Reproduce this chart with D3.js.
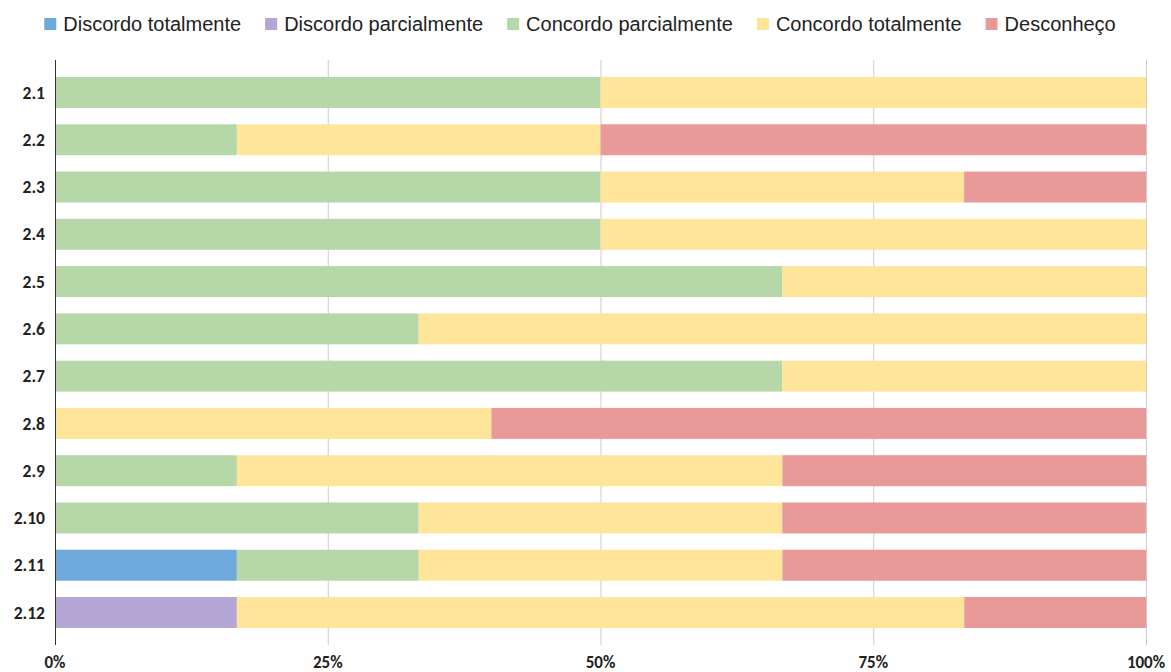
<!DOCTYPE html>
<html><head><meta charset="utf-8">
<script src="https://cdn.jsdelivr.net/npm/d3@7"></script>
<style>body{margin:0;background:#fff}svg{display:block}</style>
</head><body>
<svg id="c" width="1171" height="672"></svg>
<script>
const categories = ["2.1","2.2","2.3","2.4","2.5","2.6","2.7","2.8","2.9","2.10","2.11","2.12"];
const seriesNames = ["Discordo totalmente","Discordo parcialmente","Concordo parcialmente","Concordo totalmente","Desconheço"];
const seriesColors = ["#6fa8dc","#b4a7d6","#b6d7a8","#ffe599","#ea9999"];
const discordoTotalmente   = [0,0,0,0,0,0,0,0,0,0,16.67,0];
const discordoParcialmente = [0,0,0,0,0,0,0,0,0,0,0,16.67];
const concordoParcialmente = [50,16.67,50,50,66.67,33.33,66.67,0,16.67,33.33,16.67,0];
const concordoTotalmente   = [50,33.33,33.33,50,33.33,66.67,33.33,40,50,33.33,33.33,66.67];
const desconheco           = [0,50,16.67,0,0,0,0,60,33.33,33.33,33.33,16.67];
const tickValues = [0,25,50,75,100];
const tickLabels = ["0%","25%","50%","75%","100%"];

const seriesValues = [discordoTotalmente, discordoParcialmente, concordoParcialmente, concordoTotalmente, desconheco];
const rows = categories.map((c,i)=>{const o={cat:c}; seriesNames.forEach((s,j)=>o[s]=seriesValues[j][i]); return o;});
const stacked = d3.stack().keys(seriesNames)(rows);

const svg = d3.select("#c");
const x = d3.scaleLinear().domain([0,100]).range([55,1146]);
const y = d3.scaleBand().domain(categories).range([60,645]).paddingInner(0.345).paddingOuter(0.36);

// gridlines
svg.append("g").selectAll("line").data(tickValues.slice(1)).join("line")
  .attr("x1",d=>x(d)+0.5).attr("x2",d=>x(d)+0.5).attr("y1",60).attr("y2",645)
  .attr("stroke","#cccccc").attr("stroke-width",1);

// bars
svg.append("g").selectAll("g").data(stacked).join("g")
  .attr("fill",(d,i)=>seriesColors[i])
  .selectAll("rect").data(d=>d).join("rect")
  .attr("x",d=>x(d[0])).attr("width",d=>x(d[1])-x(d[0]))
  .attr("y",d=>y(d.data.cat)).attr("height",y.bandwidth());

// y axis line
svg.append("line").attr("x1",55.5).attr("x2",55.5).attr("y1",60).attr("y2",645)
  .attr("stroke","#333").attr("stroke-width",1);

// y labels
svg.append("g").selectAll("text").data(categories).join("text")
  .attr("x",45).attr("y",d=>y(d)+y.bandwidth()/2).attr("dy","0.35em")
  .attr("text-anchor","end").attr("font-family","Carlito, Lato, sans-serif")
  .attr("font-weight","bold").attr("font-size",17.5).attr("fill","#222").text(d=>d);

// x labels
svg.append("g").selectAll("text").data(tickValues).join("text")
  .attr("x",d=>x(d)).attr("y",668).attr("text-anchor","middle")
  .attr("font-family","Carlito, Lato, sans-serif").attr("font-weight","bold")
  .attr("font-size",17).attr("fill","#222").text((d,i)=>tickLabels[i]);

// legend
const lg = svg.append("g");
const items = seriesNames.map((s,i)=>{
  const g = lg.append("g");
  g.append("rect").attr("width",12).attr("height",12).attr("y",18).attr("fill",seriesColors[i]);
  const t = g.append("text").attr("x",19).attr("y",31).attr("font-family","Liberation Sans, Arial, sans-serif")
    .attr("font-size",20).attr("fill","#222").text(s);
  return {g, w: 19 + t.node().getComputedTextLength()};
});
const gap = 24;
const total = d3.sum(items,d=>d.w) + gap*(items.length-1);
let cx = 580 - total/2;
items.forEach(it=>{it.g.attr("transform",`translate(${cx},0)`); cx += it.w + gap;});
</script>
</body></html>
